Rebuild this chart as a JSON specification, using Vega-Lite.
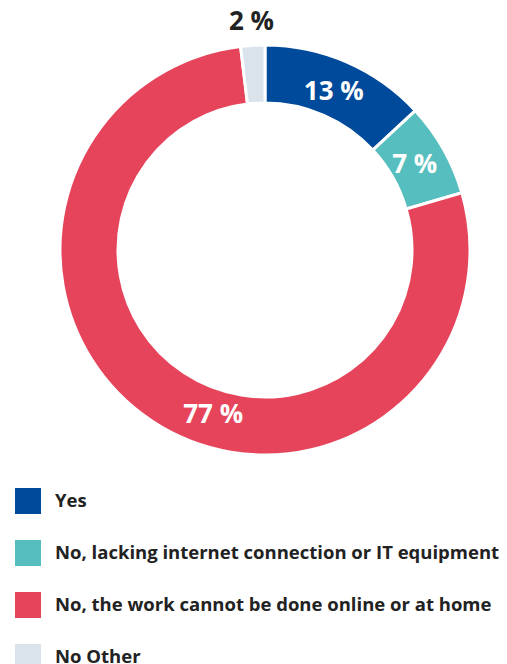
{
  "$schema": "https://vega.github.io/schema/vega-lite/v6.json",
  "autosize": "none",
  "width": 484,
  "height": 500,
  "padding": {"left": 23, "top": 0, "right": 0, "bottom": 164},
  "background": "white",
  "config": {"view": {"stroke": null}, "font": "Open Sans"},
  "data": {"values": [
    {"answer": "Yes", "value": 13.1, "label": "13 %", "order": 1},
    {"answer": "No, lacking internet connection or IT equipment", "value": 7.4, "label": "7 %", "order": 2},
    {"answer": "No, the work cannot be done online or at home", "value": 77.6, "label": "77 %", "order": 3},
    {"answer": "No Other", "value": 1.9, "label": "2 %", "order": 4}
  ]},
  "transform": [
    {"stack": "value", "groupby": [], "sort": [{"field": "order", "order": "ascending"}], "as": ["v0", "v1"]},
    {"calculate": "(datum.v0 + datum.v1) / 2", "as": "mid"}
  ],
  "layer": [
    {
      "mark": {"type": "arc", "outerRadius": 205, "innerRadius": 147, "stroke": "white", "strokeWidth": 3},
      "encoding": {
        "theta": {"field": "v0", "type": "quantitative", "scale": {"domain": [0, 100]}, "stack": null},
        "theta2": {"field": "v1"},
        "color": {
          "field": "answer", "type": "nominal",
          "scale": {
            "domain": ["Yes", "No, lacking internet connection or IT equipment", "No, the work cannot be done online or at home", "No Other"],
            "range": ["#004A9C", "#56BEBE", "#E5445A", "#DAE2EC"]
          },
          "legend": {
            "title": null,
            "orient": "none",
            "legendX": -8,
            "legendY": 488,
            "direction": "vertical",
            "symbolType": "square",
            "symbolSize": 676,
            "symbolStrokeWidth": 0,
            "labelFont": "Open Sans",
            "labelFontSize": 18.5,
            "labelFontWeight": "bold",
            "labelColor": "#222222",
            "labelLimit": 600,
            "labelOffset": 14,
            "rowPadding": 26
          }
        }
      }
    },
    {
      "transform": [{"filter": "datum.order < 3"}],
      "mark": {"type": "text", "radius": 172, "fontSize": 26, "fontWeight": "bold", "fill": "white", "font": "Open Sans"},
      "encoding": {
        "theta": {"field": "mid", "type": "quantitative", "stack": null},
        "text": {"field": "label"}
      }
    },
    {
      "transform": [{"filter": "datum.order == 3"}],
      "mark": {"type": "text", "radius": 172, "dx": 43, "dy": 22, "fontSize": 26, "fontWeight": "bold", "fill": "white", "font": "Open Sans"},
      "encoding": {
        "theta": {"field": "mid", "type": "quantitative", "stack": null},
        "text": {"field": "label"}
      }
    },
    {
      "transform": [{"filter": "datum.order == 4"}],
      "mark": {"type": "text", "radius": 228, "fontSize": 26, "fontWeight": "bold", "fill": "#222222", "font": "Open Sans"},
      "encoding": {
        "theta": {"field": "mid", "type": "quantitative", "stack": null},
        "text": {"field": "label"}
      }
    }
  ]
}
